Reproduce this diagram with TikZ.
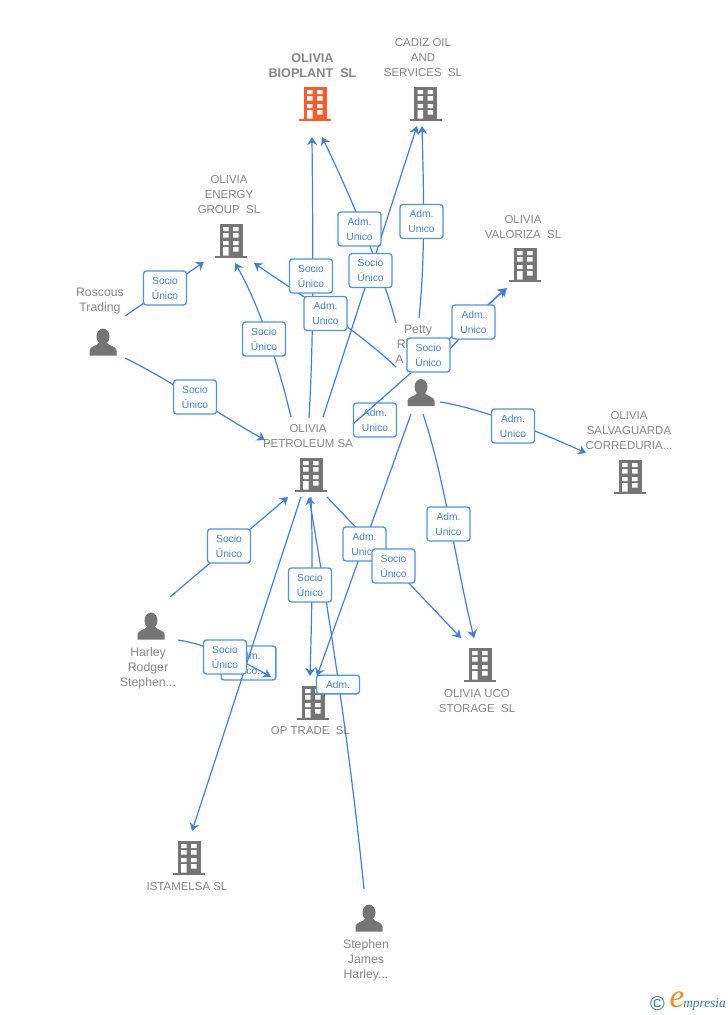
\documentclass[tikz,border=0pt]{standalone}
\usepackage{fontspec}
\setmainfont{Liberation Sans}
\newfontfamily\logofont{Liberation Serif}
\usetikzlibrary{arrows.meta}
\definecolor{edgeblue}{HTML}{3F80DE}
\definecolor{boxblue}{HTML}{4F92E6}
\definecolor{labgray}{HTML}{858585}
\definecolor{icongray}{HTML}{757575}
\definecolor{iconred}{HTML}{FF5A2B}
\definecolor{logoteal}{HTML}{2F7C96}
\definecolor{logoorange}{HTML}{F28A1E}
\tikzset{
  x=0.75pt,y=-0.75pt,
  conn/.style={draw=edgeblue,line width=0.9pt,-{Stealth[length=6pt,width=7.5pt,inset=2pt]}},
  tag/.style={draw=boxblue,fill=white,line width=1pt,rounded corners=2.2pt,minimum width=32.25pt,minimum height=25.5pt,inner sep=0pt,align=center,text=edgeblue,font=\fontsize{7.7pt}{11.2pt}\selectfont},
  lab/.style={text=labgray,align=center,inner sep=0pt,font=\fontsize{8.6pt}{11.1pt}\selectfont},
  boldlab/.style={lab,font=\fontsize{9.5pt}{11.1pt}\selectfont\bfseries},
  perslab/.style={lab,font=\fontsize{9.2pt}{11.2pt}\selectfont},
  anchorpt/.style={inner sep=0pt,minimum size=0pt},
  bld/.pic={
    \fill[pic actions] (-11.5,-16.5) rectangle (11.5,15.5);
    \fill[pic actions] (-16,15) rectangle (16,17);
    \fill[white] (-8,-13.5) rectangle (-2.5,-9.5) (2,-13.5) rectangle (7.5,-9.5)
                 (-8,-7.5) rectangle (-2.5,-3) (2,-7.5) rectangle (7.5,-3)
                 (-8,.5) rectangle (-2.5,4.5) (2,.5) rectangle (7.5,4.5)
                 (-8,6.5) rectangle (-2.5,15) (2,6.5) rectangle (7.5,11);
  },
  psn/.pic={
    \fill[icongray] (0,-5.5) ellipse [x radius=6.5,y radius=8];
    \fill[icongray] (-13.5,13.5) -- (-13.5,8) .. controls (-13,4) and (-5,4) .. (-3.5,0)
       -- (3.5,0) .. controls (5,4) and (13,4) .. (13.5,8) -- (13.5,13.5) -- cycle;
  }
}
\begin{document}
\begin{tikzpicture}
\useasboundingbox (0,0) rectangle (728,1015);

% entity icons
\node[anchorpt] (bioplant) at (315,103.5) {}; \pic[fill=iconred] at (bioplant) {bld};
\node[anchorpt] (cadiz) at (425.5,103.5) {}; \pic[fill=icongray] at (cadiz) {bld};
\node[anchorpt] (energy) at (231,240.5) {}; \pic[fill=icongray] at (energy) {bld};
\node[anchorpt] (valoriza) at (525,264.5) {}; \pic[fill=icongray] at (valoriza) {bld};
\node[anchorpt] (salva) at (630,476.5) {}; \pic[fill=icongray] at (salva) {bld};
\node[anchorpt] (petroleum) at (311,474.5) {}; \pic[fill=icongray] at (petroleum) {bld};
\node[anchorpt] (uco) at (480,664.5) {}; \pic[fill=icongray] at (uco) {bld};
\node[anchorpt] (optrade) at (313,702.5) {}; \pic[fill=icongray] at (optrade) {bld};
\node[anchorpt] (istamelsa) at (189,857.5) {}; \pic[fill=icongray] at (istamelsa) {bld};
\node[anchorpt] (roscous) at (103,342) {}; \pic at (roscous) {psn};
\node[anchorpt] (petty) at (421,392.5) {}; \pic at (petty) {psn};
\node[anchorpt] (harley) at (151,626) {}; \pic at (harley) {psn};
\node[anchorpt] (stephen) at (369,918) {}; \pic at (stephen) {psn};

% entity texts
\node[boldlab] (tbioplant) at (312.5,65.5) {OLIVIA\\BIOPLANT\ \ SL};
\node[lab] (tcadiz) at (423,57.5) {CADIZ OIL\\AND\\SERVICES\ \ SL};
\node[lab] (tenergy) at (229,194.5) {OLIVIA\\ENERGY\\GROUP\ \ SL};
\node[lab] (tvaloriza) at (523,227) {OLIVIA\\VALORIZA\ \ SL};
\node[lab] (tsalva) at (629,430.5) {OLIVIA\\SALVAGUARDA\\CORREDURIA...};
\node[lab] (tpetroleum) at (308,436) {OLIVIA\\PETROLEUM SA};
\node[lab] (tuco) at (477,701) {OLIVIA UCO\\STORAGE\ \ SL};
\node[lab] (toptrade) at (310.5,731) {OP TRADE\ \ SL};
\node[lab] (tistamelsa) at (187,887) {ISTAMELSA SL};
\node[perslab] (troscous) at (100,301.5) {Roscous\\Trading};
\node[perslab] (tpetty) at (418,345.5) {Petty\\Ri\phantom{chard}\\A\phantom{nthony}};
\node[perslab] (tharley) at (148,668) {Harley\\Rodger\\Stephen...};
\node[perslab] (tstephen) at (366,960) {Stephen\\James\\Harley...};

% connector ends
\coordinate (a1) at (125,316);   \coordinate (b1) at (204,262);
\coordinate (a2) at (125,358);   \coordinate (b2) at (265,440);
\coordinate (a3) at (291,417);   \coordinate (b3) at (235,263);
\coordinate (a4) at (309,418);   \coordinate (b4) at (312,137);
\coordinate (a5) at (396,367);   \coordinate (b5) at (254,263);
\coordinate (a6) at (396,323);   \coordinate (b6) at (322,137);
\coordinate (a7) at (323,417);   \coordinate (b7) at (417,126);
\coordinate (a8) at (419,318);   \coordinate (b8) at (422,126);
\coordinate (a9) at (353,424);   \coordinate (b9) at (507,288);
\coordinate (a10) at (441,358);  \coordinate (b10) at (506,289);
\coordinate (a11) at (440,402);  \coordinate (b11) at (586,453);
\coordinate (a12) at (423,414);  \coordinate (b12) at (474,638);
\coordinate (a13) at (411,414);  \coordinate (b13) at (317,676);
\coordinate (a14) at (327,497);  \coordinate (b14) at (461,638);
\coordinate (a15) at (311,497);  \coordinate (b15) at (310,676);
\coordinate (a16) at (364,889);  \coordinate (b16) at (309,497);
\coordinate (a17) at (170,597);  \coordinate (b17) at (288,497);
\coordinate (a18) at (178,640);  \coordinate (b18) at (271,677);
\coordinate (a19) at (301,497);  \coordinate (b19) at (192,831);

% boxes lying under connectors
\node[tag] (l10) at (375,420) {Adm.\\Unico};
\node[tag,minimum width=41pt] (l18) at (248.5,663) {Adm.\\Unico...};

% connectors
\draw[conn] (a1) -- (b1);
\draw[conn] (a2) .. controls (170,380) and (220,415) .. (b2);
\draw[conn] (a3) .. controls (281,375) and (262,310) .. (b3);
\draw[conn] (a4) .. controls (314,330) and (313,250) .. (b4);
\draw[conn] (a5) .. controls (355,328) and (300,295) .. (b5);
\draw[conn] (a6) .. controls (385,280) and (355,205) .. (b6);
\draw[conn] (a7) .. controls (350,335) and (385,225) .. (b7);
\draw[conn] (a8) .. controls (425,260) and (424,200) .. (b8);
\draw[conn] (a9) -- (b9);
\draw[conn] (a10) .. controls (465,335) and (485,305) .. (b10);
\draw[conn] (a11) .. controls (480,408) and (540,432) .. (b11);
\draw[conn] (a12) .. controls (445,480) and (455,560) .. (b12);
\draw[conn] (a13) -- (b13);
\draw[conn] (a14) -- (b14);
\draw[conn] (a15) .. controls (313,550) and (312,610) .. (b15);
\draw[conn] (a16) .. controls (350,750) and (330,620) .. (b16);
\draw[conn] (a17) -- (b17);
\draw[conn] (a18) .. controls (210,645) and (245,662) .. (b18);
\draw[conn] (a19) .. controls (285,545) and (235,700) .. (b19);

% boxes over connectors
\node[tag] (l1) at (165,288) {Socio\\Único};
\node[tag] (l2) at (195,397) {Socio\\Único};
\node[tag] (l3) at (264,339) {Socio\\Único};
\node[tag] (l4) at (311,276) {Socio\\Único};
\node[tag] (l5) at (325.5,313.5) {Adm.\\Unico};
\node[tag] (l6) at (359.5,229) {Adm.\\Unico};
\node[tag] (l7) at (370.5,270.5) {Socio\\Único};
\node[tag] (l8) at (421.5,221.5) {Adm.\\Unico};
\node[tag] (l9) at (428.5,355) {Socio\\Único};
\node[tag] (l11) at (473.5,322) {Adm.\\Unico};
\node[tag] (l12) at (513,426) {Adm.\\Unico};
\node[tag] (l13) at (448.5,524) {Adm.\\Unico};
\node[tag] (l14) at (364.5,544) {Adm.\\Unico};
\node[tag] (l15) at (393.5,566) {Socio\\Único};
\node[tag] (l16) at (310,585) {Socio\\Único};
\node[tag] (l17) at (229,546) {Socio\\Único};
\node[tag] (l19) at (225,657) {Socio\\Único};
\node[tag,minimum height=14pt] (l20) at (338,684.5) {Adm.};

% logo
\node[inner sep=0pt,text=logoteal,font=\fontsize{15pt}{15pt}\selectfont] (logoc) at (657.5,1003.5) {©};
\node[inner sep=0pt,text=logoorange,font=\logofont\itshape\fontsize{25pt}{25pt}\selectfont] (logoe) at (677,1000) {e};
\node[inner sep=0pt,anchor=west,text=logoteal,font=\logofont\itshape\fontsize{10pt}{10pt}\selectfont] (logot) at (683,1004.5) {mpresia};
\end{tikzpicture}
\end{document}
